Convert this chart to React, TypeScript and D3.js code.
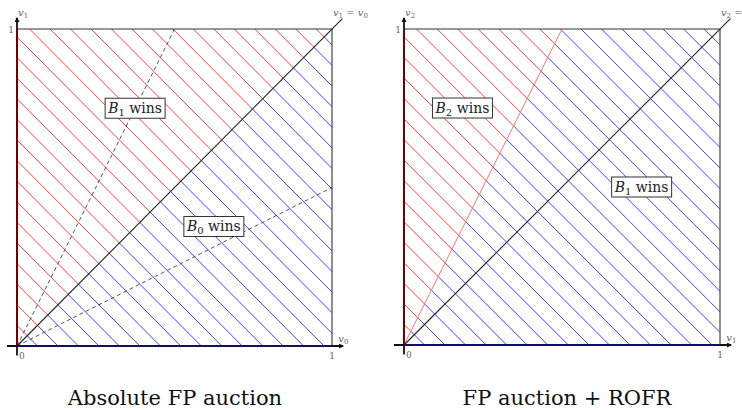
import React from "react";
import * as d3 from "d3";

const W = 742;
const H = 410;

// hatch pattern: lines v0 + v1 = c
const hatchStep = 0.065;
const hatchIndex = d3.range(1, 32);

// left panel
const leftTitle = "Absolute FP auction";
const leftAxisNames = ["0", "1"]; // subscripts for x, y
const leftRed = [[0, 0], [1, 1], [0, 1]];
const leftBlue = [[0, 0], [1, 0], [1, 1]];
const leftDashSlopes = [2, 0.5];
const leftLabels = [
  { sub: "1", at: [0.375, 0.75] },
  { sub: "0", at: [0.625, 0.377] },
];

// right panel
const rightTitle = "FP auction + ROFR";
const rightAxisNames = ["1", "2"];
const rightBoundarySlope = 2;
const rightRed = [[0, 0], [0.5, 1], [0, 1]];
const rightBlue = [[0, 0], [1, 0], [1, 1], [0.5, 1]];
const rightLabels = [
  { sub: "2", at: [0.185, 0.75] },
  { sub: "1", at: [0.752, 0.5] },
];

const SERIF = "'DejaVu Serif', 'Liberation Serif', serif";

type Region = { pts: number[][]; color: string };

function Panel(props: {
  id: string;
  xr: [number, number];
  yr: [number, number];
  regions: Region[];
  dashSlopes: number[];
  boundarySlope?: number;
  labels: { sub: string; at: number[] }[];
  axisNames: string[];
  title: string;
  titleX: number;
}) {
  const { id, xr, yr, regions, dashSlopes, boundarySlope, labels, axisNames, title, titleX } = props;
  const x = d3.scaleLinear().domain([0, 1]).range(xr);
  const y = d3.scaleLinear().domain([0, 1]).range(yr);
  const poly = (pts: number[][]) => pts.map((p) => `${x(p[0])},${y(p[1])}`).join(" ");
  const [xn, yn] = axisNames;
  const tickFill = "#666";
  return (
    <g>
      <defs>
        {regions.map((r, i) => (
          <clipPath id={`${id}-clip-${i}`} key={i}>
            <polygon points={poly(r.pts)} />
          </clipPath>
        ))}
        <marker id={`${id}-arrow`} viewBox="0 0 10 10" refX="8" refY="5" markerWidth="5" markerHeight="5" orient="auto-start-reverse" markerUnits="userSpaceOnUse">
          <path d="M0,0 L10,5 L0,10 z" fill="#111" />
        </marker>
      </defs>
      {regions.map((r, i) => (
        <g key={i} clipPath={`url(#${id}-clip-${i})`}>
          {hatchIndex.map((k) => {
            const c = k * hatchStep;
            return (
              <line
                key={k}
                x1={x(-0.5)}
                y1={y(c + 0.5)}
                x2={x(c + 0.5)}
                y2={y(-0.5)}
                stroke={r.color}
                strokeWidth={0.85}
              />
            );
          })}
        </g>
      ))}
      {/* frame */}
      <line x1={x(0)} y1={y(1)} x2={x(1)} y2={y(1)} stroke="#333" strokeWidth={1.2} />
      <line x1={x(1)} y1={y(0)} x2={x(1)} y2={y(1)} stroke="#444" strokeWidth={1.2} />
      {/* dashed lines */}
      {dashSlopes.map((s, i) => {
        const ex = s > 1 ? 1 / s : 1;
        const ey = s > 1 ? 1 : s;
        return (
          <line key={i} x1={x(0)} y1={y(0)} x2={x(ex)} y2={y(ey)} stroke="#444" strokeWidth={0.9} strokeDasharray="4,3" />
        );
      })}
      {boundarySlope !== undefined && (
        <line x1={x(0)} y1={y(0)} x2={x(1 / boundarySlope)} y2={y(1)} stroke="#ff7070" strokeWidth={1} />
      )}
      {/* diagonal */}
      <line x1={x(0)} y1={y(0)} x2={x(1.033)} y2={y(1.033)} stroke="#222" strokeWidth={1.1} />
      {/* axes */}
      <line x1={x(-0.032)} y1={y(0)} x2={x(1.035)} y2={y(0)} stroke="#111" strokeWidth={1.8} markerEnd={`url(#${id}-arrow)`} />
      <line x1={x(0)} y1={y(-0.03)} x2={x(0)} y2={y(1.035)} stroke="#111" strokeWidth={1.8} markerEnd={`url(#${id}-arrow)`} />
      <line x1={x(0)} y1={y(0)} x2={x(1)} y2={y(0)} stroke="#101060" strokeWidth={1.8} />
      <line x1={x(0)} y1={y(0)} x2={x(0)} y2={y(1)} stroke="#700000" strokeWidth={1.8} />
      {/* tick labels */}
      <text x={x(0) - 3} y={y(1) + 3.5} fontSize={9} fill={tickFill} textAnchor="end" fontFamily={SERIF}>1</text>
      <text x={x(0) + 2} y={y(0) + 13} fontSize={9} fill={tickFill} fontFamily={SERIF}>0</text>
      <text x={x(1)} y={y(0) + 13} fontSize={9} fill={tickFill} textAnchor="middle" fontFamily={SERIF}>1</text>
      {/* axis names */}
      <text x={x(0) + 1} y={y(1.04)} fontSize={10} fill={tickFill} fontFamily={SERIF} fontStyle="italic">
        v<tspan fontSize={7} dy={2} fontStyle="normal">{yn}</tspan>
      </text>
      <text x={x(1.02)} y={y(0.012)} fontSize={10} fill={tickFill} fontFamily={SERIF} fontStyle="italic">
        v<tspan fontSize={7} dy={2} fontStyle="normal">{xn}</tspan>
      </text>
      <text x={x(1.003)} y={y(1.04)} fontSize={10} fill={tickFill} fontFamily={SERIF} fontStyle="italic">
        v<tspan fontSize={7} dy={2} fontStyle="normal">{yn}</tspan>
        <tspan dy={-2} fontStyle="normal"> = </tspan>v<tspan fontSize={7} dy={2} fontStyle="normal">{xn}</tspan>
      </text>
      {/* region labels */}
      {labels.map((l, i) => {
        const cx = x(l.at[0]);
        const cy = y(l.at[1]);
        return (
          <g key={i}>
            <rect x={cx - 30} y={cy - 10} width={60} height={20} fill="white" stroke="#333" strokeWidth={1} />
            <text x={cx} y={cy + 5} textAnchor="middle" fontSize={14} fontFamily={SERIF} fill="#222">
              <tspan fontStyle="italic">B</tspan>
              <tspan fontSize={10} dy={3}>{l.sub}</tspan>
              <tspan dy={-3}> wins</tspan>
            </text>
          </g>
        );
      })}
      <text x={titleX} y={405} textAnchor="middle" fontSize={21} fontFamily={SERIF} fill="#111">{title}</text>
    </g>
  );
}

export default function App() {
  return (
    <svg width={W} height={H} style={{ position: "absolute", left: 0, top: 0, background: "white" }}>
      <rect width={W} height={H} fill="white" />
      <Panel
        id="L"
        xr={[17, 332]}
        yr={[346, 29]}
        regions={[
          { pts: leftRed, color: "#ff2020" },
          { pts: leftBlue, color: "#2020ff" },
        ]}
        dashSlopes={leftDashSlopes}
        labels={leftLabels}
        axisNames={leftAxisNames}
        title={leftTitle}
        titleX={175}
      />
      <Panel
        id="R"
        xr={[404, 720]}
        yr={[345, 29]}
        regions={[
          { pts: rightRed, color: "#ff2020" },
          { pts: rightBlue, color: "#2020ff" },
        ]}
        dashSlopes={[]}
        boundarySlope={rightBoundarySlope}
        labels={rightLabels}
        axisNames={rightAxisNames}
        title={rightTitle}
        titleX={567}
      />
    </svg>
  );
}
